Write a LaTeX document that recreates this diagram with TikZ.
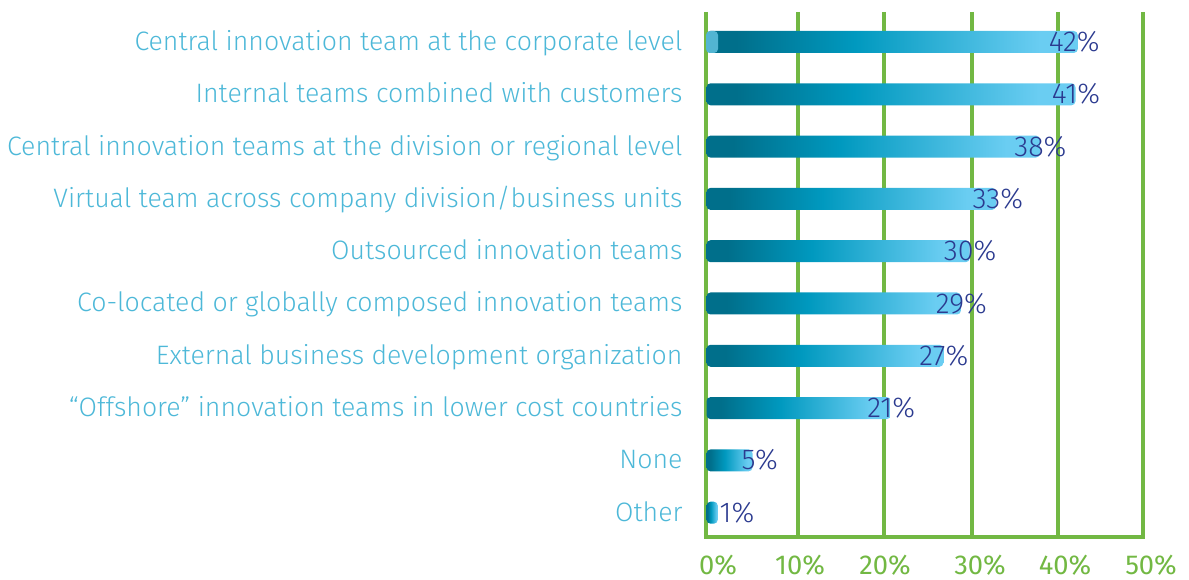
\documentclass[tikz,border=0pt]{standalone}
\usepackage{fontspec}
\setmainfont{Fira Sans}[UprightFont=* Light]
\newfontfamily\axisfont{Fira Sans}

\definecolor{labelblue}{HTML}{4DB8D8}
\definecolor{valueblue}{HTML}{2B3A8F}
\definecolor{gridgreen}{HTML}{72B843}
\definecolor{bardark}{HTML}{006F8B}
\definecolor{barmid}{HTML}{0099BF}
\definecolor{barlight}{HTML}{6ACDF2}
\definecolor{barstub}{HTML}{52B5D2}

\pgfdeclarehorizontalshading{barshade}{100bp}{color(0bp)=(bardark); color(25bp)=(bardark); color(29bp)=(bardark); color(45bp)=(barmid); color(70bp)=(barlight); color(75bp)=(barlight); color(100bp)=(barlight)}

\tikzset{every picture/.style={line width=0.75pt}}
\tikzset{
  item/.style={anchor=base east, text=labelblue, font=\fontsize{20}{22}\selectfont, inner sep=0pt},
  bar/.style={anchor=west, shading=barshade, rounded corners=3pt, minimum height=16.5pt, inner sep=0pt},
  val/.style={anchor=base, text=valueblue, font=\fontsize{21.5}{23}\selectfont, inner sep=0pt, yshift=-7.2pt},
  grid/.style={draw=gridgreen, line width=2.4pt},
  tick/.style={anchor=base, text=gridgreen, font=\axisfont\fontsize{20.5}{22}\selectfont, inner sep=0pt}
}

\begin{document}
\begin{tikzpicture}[x=0.75pt,y=0.75pt,yscale=-1,xscale=1]

        \useasboundingbox (0,0) rectangle (1189,580);

        \draw[grid] (706,12) -- (706,537) -- (1143,537) -- (1143,12);
        \draw[grid] (798,12) -- (798,537);
        \draw[grid] (884,12) -- (884,537);
        \draw[grid] (972,12) -- (972,537);
        \draw[grid] (1058,12) -- (1058,537);

        \node[tick] (t0) at (718,575) {0\%};
        \node[tick] (t10) at (800,575) {10\%};
        \node[tick] (t20) at (885,575) {20\%};
        \node[tick] (t30) at (980,575) {30\%};
        \node[tick] (t40) at (1065,575) {40\%};
        \node[tick] (t50) at (1151,575) {50\%};

        \node[item] (corporate) at (683,50.5) {Central innovation team at the corporate level};
        \node[item] (customers) at (683,102.8) {Internal teams combined with customers};
        \node[item] (division) at (683,155.1) {Central innovation teams at the division or regional level};
        \node[item] (virtual) at (683,207.4) {Virtual team across company division/business units};
        \node[item] (outsourced) at (683,259.7) {Outsourced innovation teams};
        \node[item] (colocated) at (683,312) {Co-located or globally composed innovation teams};
        \node[item] (external) at (683,364.3) {External business development organization};
        \node[item] (offshore) at (683,416.6) {\textquotedblleft Offshore\textquotedblright\ innovation teams in lower cost countries};
        \node[item] (none) at (683,468.9) {None};
        \node[item] (other) at (683,521.2) {Other};

        \node[bar, minimum width={42*6.63pt}] (barcorporate) at (706,42) {};
        \node[bar, minimum width={41*6.75pt}] (barcustomers) at (706,94.3) {};
        \node[bar, minimum width={38*6.58pt}] (bardivision) at (706,146.6) {};
        \node[bar, minimum width={33*6.58pt}] (barvirtual) at (706,198.9) {};
        \node[bar, minimum width={30*6.58pt}] (baroutsourced) at (706,251.2) {};
        \node[bar, minimum width={29*6.58pt}] (barcolocated) at (706,303.5) {};
        \node[bar, minimum width={27*6.58pt}] (barexternal) at (706,355.8) {};
        \node[bar, minimum width={21*6.58pt}] (baroffshore) at (706,408.1) {};
        \node[bar, minimum width={5*6.9pt}] (barnone) at (706,460.4) {};
        \node[bar, minimum width={1*8.5pt}] (barother) at (706,512.7) {};
        \fill[barstub, rounded corners=3pt] (706,31) rectangle (718,53);

        \node[val] (vcorporate) at ([xshift=-3pt]barcorporate.east) {42\%};
        \node[val] (vcustomers) at ([xshift=0pt]barcustomers.east) {41\%};
        \node[val] (vdivision) at (bardivision.east) {38\%};
        \node[val] (vvirtual) at ([xshift=1pt]barvirtual.east) {33\%};
        \node[val] (voutsourced) at (baroutsourced.east) {30\%};
        \node[val] (vcolocated) at (barcolocated.east) {29\%};
        \node[val] (vexternal) at (barexternal.east) {27\%};
        \node[val] (voffshore) at (baroffshore.east) {21\%};
        \node[val] (vnone) at ([xshift=5pt]barnone.east) {5\%};
        \node[val] (vother) at ([xshift=14pt]barother.east) {1\%};

        \end{tikzpicture}
\end{document}
